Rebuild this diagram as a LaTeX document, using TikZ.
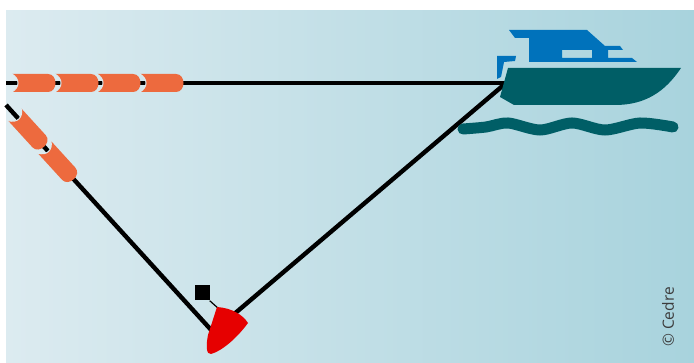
\documentclass[tikz,border=0pt]{standalone}
\usepackage{fontspec}
\setsansfont{Open Sans}
\usepackage{xcolor}
\usepackage{tikz}
\usetikzlibrary{calc}
\definecolor{FondoClaro}{RGB}{220,235,240}
\definecolor{FondoOscuro}{RGB}{168,211,221}
\definecolor{NaranjaBarrera}{RGB}{237,106,62}
\definecolor{AzulCabina}{RGB}{0,114,187}
\definecolor{VerdeCasco}{RGB}{0,94,102}
\definecolor{RojoBoya}{RGB}{230,0,0}
\definecolor{GrisTexto}{RGB}{60,60,60}
\tikzset{
  tramo/.pic={
    \fill[NaranjaBarrera] (0,-9) -- (36,-9) .. controls (46,-9) and (46,9) .. (36,9)
      -- (0,9) .. controls (8,4) and (8,-4) .. (0,-9) -- cycle;
    \draw[FondoClaro,line width=1pt] (0,9) .. controls (8,4) and (8,-4) .. (0,-9);
  },
  cabo/.style={line width=4.4pt,black,line join=round}
}

\begin{document}
\begin{tikzpicture}[x=1pt,y=-1pt]
  \useasboundingbox (0,0) rectangle (694,363);
  \shade[left color=FondoClaro,right color=FondoOscuro] (6,11) rectangle (694,363);

  \coordinate (I1) at (6,83);
  \coordinate (I2) at (6,105);
  \coordinate (barco) at (506,83);
  \coordinate (boya) at (213,332);
  \coordinate (anclaje) at (219,309);
  \draw[cabo] (I1) -- (barco);
  \draw[cabo] (I2) -- (boya) -- (barco);

  % barrera de contencion
  \foreach \x in {12,55,97,140}
    \pic at (\x,83) {tramo};
  \foreach \s in {13,57}
    \pic[rotate=-47.6] at ($(I2)!\s pt!(boya)$) {tramo};

  % boya y marca
  \node[fill,minimum size=15pt,inner sep=0pt] (marca) at (202,293) {};
  \draw[line width=1.2pt] (marca.south east) -- (anclaje);
  \fill[RojoBoya] (217,307) .. controls (232,308) and (243,315) .. (248,323)
    .. controls (237,338) and (222,351) .. (211,354)
    .. controls (206,355) and (206,345) .. (208,335) -- cycle;

  % barco
  \fill[VerdeCasco] (508,68) -- (681,68) .. controls (665,92) and (645,105) .. (615,105)
    -- (514,105) -- (500,97) -- cycle;
  \fill[AzulCabina,even odd rule] (509,30) -- (587,30) -- (605,46) -- (620,46) -- (623,50)
    -- (608,50) -- (608,58) -- (632,58) -- (637,62) -- (529,62) -- (529,38) -- (515,38) -- cycle
    (562,50) rectangle (592,58);
  \fill[AzulCabina] (497,56) -- (516,56) -- (515,61) -- (504,62) -- (501,77) -- (497,79) -- cycle;
  \draw[VerdeCasco,line width=11pt,line cap=round] plot[smooth] coordinates
    {(463,129) (486,127) (508,123) (540,130) (572,123) (605,130) (640,123) (673,127)};

  \node[rotate=90,text=GrisTexto,font=\sffamily\fontsize{15.5}{15.5}\selectfont] (credito) at (668,317) {© Cedre};
\end{tikzpicture}
\end{document}
